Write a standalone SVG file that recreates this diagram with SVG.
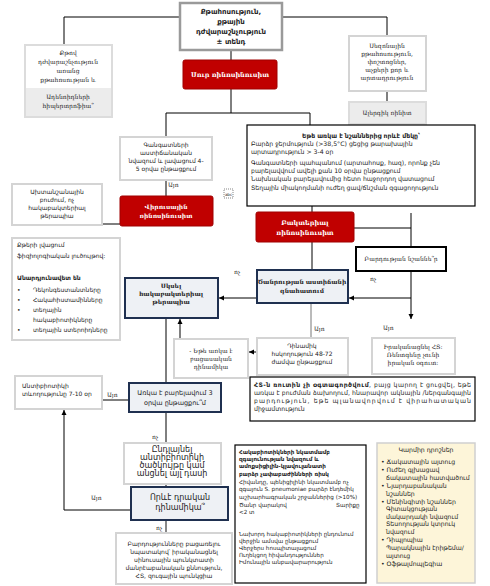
<svg xmlns="http://www.w3.org/2000/svg" width="490" height="586" viewBox="0 0 490 586">
<defs>
<marker id="ar" markerWidth="6" markerHeight="6" refX="5" refY="3" orient="auto" markerUnits="userSpaceOnUse">
<path d="M0,0.5 L5,3 L0,5.5 Z" fill="#000"/>
</marker>
<style>
.s{font-family:"DejaVu Sans","Noto Sans",sans-serif;fill:#222}
.r{font-family:"DejaVu Serif",serif;fill:#222}
.c{text-anchor:middle}
.b{font-weight:bold}
.w{fill:#fff}
.red{fill:#c00000;stroke:#a00000;stroke-width:1}
.gb{fill:#fff;stroke:#d4d4d4;stroke-width:2}
.nv{fill:#eef1f5;stroke:#1f3050;stroke-width:2}
.bk{fill:#fff;stroke:#000;stroke-width:1.2}
.cn path{fill:none;stroke:#000;stroke-width:1}
.f55{font-size:5.6px}
.f62{font-size:6.2px}
.f65{font-size:6.5px}
.f6{font-size:6px}
.f7{font-size:7px}
.f8{font-size:8px}
</style>
</defs>
<rect width="490" height="586" fill="#fff"/>

<g class="cn">
<path d="M180,17 H64 V45"/>
<path d="M282,17 H387 V36"/>
<path d="M387,91 V102"/>
<path d="M231,50 V60"/>
<path d="M231,89 V113"/>
<path d="M166,113 H310 V125"/>
<path d="M166,113 V137"/>
<path d="M166,180 V196"/>
<path d="M120,224 H102"/>
<path d="M312,206 V212"/>
<path d="M312,242 V270"/>
<path d="M354,228 H411"/>
<path d="M411,213 V247"/>
<path d="M411,271 V319" marker-end="url(#ar)"/>
<path d="M411,298 H349" marker-end="url(#ar)"/>
<path d="M257,298 H219" marker-end="url(#ar)"/>
<path d="M311,303 V338" style="stroke:#777"/>
<path d="M257,352 H249" marker-end="url(#ar)"/>
<path d="M180,339 V319" marker-end="url(#ar)"/>
<path d="M166,318 V383"/>
<path d="M129,400 H102"/>
<path d="M166,412 V443"/>
<path d="M166,484 V487"/>
<path d="M131,510 H64 V410" marker-end="url(#ar)"/>
<path d="M166,520 V533" style="stroke:#888;stroke-width:2"/>
</g>

<g id="lbls">
<text class="r f6" x="168" y="187">Այո</text>
<text class="r f6" x="234" y="274">ոչ</text>
<text class="r f6" x="370" y="281">ոչ</text>
<text class="r f6" x="383" y="330">Այո</text>
<text class="r f6" x="314" y="331">Այո</text>
<text class="r f6" x="107" y="397">Այո</text>
<text class="r f6" x="152" y="439">ոչ</text>
<text class="r f6" x="91" y="500">Այո</text>
<text class="r f6" x="156" y="530">ոչ</text>
</g>

<g id="n-top">
<rect x="180" y="3" width="102" height="47" fill="#fff" stroke="#9a9a9a" stroke-width="2.5"/>
<text class="s c b f7" x="231" y="14">Քթահոսություն,</text>
<text class="s c b f7" x="231" y="24">քթային</text>
<text class="s c b f7" x="231" y="34">դժվարաշնչություն</text>
<text class="s c b f7" x="231" y="44">± տենդ</text>
</g>

<g id="n-acute">
<rect class="red" x="183" y="60" width="94" height="29" rx="2"/>
<text class="r c b w f65" x="230" y="77">Սուր ռինոսինուսիտ</text>
</g>

<g id="n-nasal">
<rect x="25" y="45" width="87" height="72" fill="#fff" stroke="#dcdcdc" stroke-width="2"/>
<rect x="26" y="88" width="85" height="28" fill="#ececec"/>
<text class="r c f6" x="68" y="55">Քթով</text>
<text class="r c f6" x="68" y="64">դժվարաշնչություն</text>
<text class="r c f6" x="68" y="73">առանց</text>
<text class="r c f6" x="68" y="82">քթահոսության և</text>
<text class="r c f6" x="68" y="99">Ադենոիդների</text>
<text class="r c f6" x="68" y="108">հիպերտրոֆիա՞</text>
</g>

<g id="n-seasonal">
<rect class="gb" x="349" y="36" width="77" height="55"/>
<text class="r c f6" x="387" y="48">Սեզոնային</text>
<text class="r c f6" x="387" y="56">քթահոսություն,</text>
<text class="r c f6" x="387" y="64">փռշտոցներ,</text>
<text class="r c f6" x="387" y="72">աչքերի քոր և</text>
<text class="r c f6" x="387" y="80">արտադրություն</text>
</g>

<g id="n-allergic">
<rect x="349" y="102" width="77" height="22" fill="#ececec" stroke="#dcdcdc" stroke-width="2"/>
<text class="r c f6" x="387" y="115">Ալերգիկ ռինիտ</text>
</g>

<g id="n-signs">
<rect class="bk" x="247" y="125" width="228" height="81"/>
<text class="s c b f62" x="361" y="138">Եթե առկա է նշաններից որևէ մեկը՝</text>
<text class="s f62" x="251" y="146">Բարձր ջերմություն (&gt;38,5°C) ցեցից թարախային</text>
<text class="s f62" x="251" y="154">արտադրություն   &gt; 3-4 օր</text>
<text class="s f62" x="251" y="165">Գանգատների պահպանում  (արտահոսք, հազ), որոնք չեն</text>
<text class="s f62" x="251" y="173">բարելավվում ավելի քան 10 օրվա ընթացքում</text>
<text class="s f62" x="251" y="181">Նախնական բարելավումից հետո հաջորդող վատացում</text>
<text class="s f62" x="251" y="190">Տեղային միակողմանի ուժեղ ցավ/ճնշման զգացողություն</text>
</g>

<g id="n-improve45">
<rect class="gb" x="120" y="137" width="92" height="43"/>
<text class="s c f6" x="166" y="147">Գանգատների</text>
<text class="s c f6" x="166" y="155">աստիճանական</text>
<text class="s c f6" x="166" y="163">նվազում և լավացում 4-</text>
<text class="s c f6" x="166" y="171">5 օրվա ընթացքում</text>
</g>

<g id="n-icon">
<rect x="224" y="189" width="9" height="9" fill="none" stroke="#333" stroke-width="0.6" stroke-dasharray="1,1"/>
<text class="s c" x="228.5" y="195.5" style="font-size:4px">abc</text>
</g>

<g id="n-viral">
<rect class="red" x="120" y="196" width="93" height="30" rx="2"/>
<text class="r c b w f6" x="166" y="209">Վիրուսային</text>
<text class="r c b w f6" x="166" y="218">ռինոսինուսիտ</text>
</g>

<g id="n-symptomatic">
<rect class="gb" x="12" y="184" width="90" height="41"/>
<text class="s c f6" x="57" y="194">Ախտանշանային</text>
<text class="s c f6" x="57" y="202">բուժում, ոչ</text>
<text class="s c f6" x="57" y="210">հակաբակտերիալ</text>
<text class="s c f6" x="57" y="218">թերապիա</text>
</g>

<g id="n-saline">
<rect class="gb" x="12" y="238" width="108" height="102"/>
<text class="s f6" x="17" y="247">Քթերի լվացում</text>
<text class="s f6" x="17" y="258">ֆիզիոլոգիական լուծույթով:</text>
<text class="s b f6" x="17" y="280">Անարդյունավետ են</text>
<text class="s f6" x="17" y="292">•</text><text class="s f6" x="33" y="292">Դեկոնգեստանտները</text>
<text class="s f6" x="17" y="302">•</text><text class="s f6" x="33" y="302">Հակահիստամինները</text>
<text class="s f6" x="17" y="312">•</text><text class="s f6" x="33" y="312">տեղային</text>
<text class="s f6" x="33" y="322">հակաբիոտիկները</text>
<text class="s f6" x="17" y="332">•</text><text class="s f6" x="33" y="332">տեղային ստերոիդները</text>
</g>

<g id="n-bacterial">
<rect class="red" x="256" y="212" width="98" height="30" rx="2"/>
<text class="r c b w f65" x="305" y="225">Բակտերիալ</text>
<text class="r c b w f65" x="305" y="235">ռինոսինուսիտ</text>
</g>

<g id="n-compl">
<rect x="356" y="247" width="90" height="24" fill="#fff" stroke="#000" stroke-width="2"/>
<text class="r c f6" x="401" y="261">Բարդության նշաննե՞ր</text>
</g>

<g id="n-severity">
<rect class="nv" x="257" y="270" width="91" height="33"/>
<text class="r c b f6" x="302" y="284">Ծանրության աստիճանի</text>
<text class="r c b f6" x="302" y="293">գնահատում</text>
</g>

<g id="n-start">
<rect class="nv" x="125" y="278" width="93" height="40"/>
<text class="r c b f6" x="171" y="288">Սկսել</text>
<text class="r c b f6" x="171" y="296">հակաբակտերիալ</text>
<text class="r c b f6" x="171" y="304">թերապիա</text>
</g>

<g id="n-watch">
<rect class="gb" x="257" y="338" width="91" height="37"/>
<text class="s c f6" x="302" y="348">Դինամիկ</text>
<text class="s c f6" x="302" y="356">հսկողություն 48-72</text>
<text class="s c f6" x="302" y="364">ժամվա ընթացքում</text>
</g>

<g id="n-ct">
<rect class="gb" x="372" y="338" width="83" height="36"/>
<text class="r c f6" x="413" y="349">Իրականացնել ՀՏ:</text>
<text class="r c f6" x="413" y="357">Ռենտգենը չունի</text>
<text class="r c f6" x="413" y="365">իրական օգուտ:</text>
</g>

<g id="n-negdyn">
<rect class="gb" x="174" y="339" width="74" height="39"/>
<text class="r c f6" x="211" y="353">- Եթե առկա է</text>
<text class="r c f6" x="211" y="361">բացասական</text>
<text class="r c f6" x="211" y="369">դինամիկա</text>
</g>

<g id="n-ctnote">
<rect class="bk" x="250" y="377" width="225" height="44"/>
<text class="s f62" x="254" y="387" textLength="217" lengthAdjust="spacing"><tspan class="b">ՀՏ-ն ռուտին չի օգտագործվում</tspan>, բայց կարող է ցուցվել, եթե</text>
<text class="s f62" x="254" y="395" textLength="217" lengthAdjust="spacing">առկա է բուժման ձախողում, հնարավոր ակնային /ներգանգային</text>
<text class="s f62" x="254" y="403" textLength="217" lengthAdjust="spacing">բարդություն, եթե պլանավորվում է վիրահատական</text>
<text class="s f62" x="254" y="411">միջամտություն</text>
</g>

<g id="n-duration">
<rect class="gb" x="15" y="376" width="87" height="33"/>
<text class="s f6" x="22" y="388">Անտիբիոտիկի</text>
<text class="s f6" x="22" y="396">տևողությունը 7-10 օր</text>
</g>

<g id="n-3days">
<rect class="nv" x="129" y="383" width="92" height="29"/>
<text class="s c f65" x="175" y="395">Առկա է բարելավում 3</text>
<text class="s c f65" x="175" y="405">օրվա ընթացքու՞մ</text>
</g>

<g id="n-broaden">
<rect class="gb" x="124" y="443" width="97" height="41"/>
<text class="s c f8" x="172" y="452">Ընդլայնել</text>
<text class="s c f8" x="172" y="460">անտիբիոտիկի</text>
<text class="s c f8" x="172" y="468">ծածկույթը կամ</text>
<text class="s c f8" x="172" y="476">անցնել այլ դասի</text>
</g>

<g id="n-anydyn">
<rect class="nv" x="131" y="487" width="97" height="33"/>
<text class="s c f8" x="180" y="500">Որևէ դրական</text>
<text class="s c f8" x="180" y="510">դինամիկա՞</text>
</g>

<g id="n-exclude">
<rect class="gb" x="116" y="533" width="116" height="51"/>
<text class="s c f6" x="174" y="546">Բարդությունները բացառելու</text>
<text class="s c f6" x="174" y="554">նպատակով՝ իրականացնել</text>
<text class="s c f6" x="174" y="562">սինուսային պունկտատի</text>
<text class="s c f6" x="174" y="570">մանրէաբանական քննություն,</text>
<text class="s c f6" x="174" y="578">ՀՏ, զուգային պունկցիա</text>
</g>

<g id="n-risk">
<rect class="bk" x="235" y="445" width="131" height="138"/>
<text class="s b f55" x="239" y="454">Հակաբիոտիկների նկատմամբ</text>
<text class="s b f55" x="239" y="461">զգայունության նվազում և</text>
<text class="s b f55" x="239" y="468">ամոքսիցիլին-կլավուլանատի</text>
<text class="s b f55" x="239" y="476">բարձր չափաբաժինների ռիսկ</text>
<text class="s f55" x="239" y="484">Հիվանդը, պենիցիլինի նկատմամբ ոչ</text>
<text class="s f55" x="239" y="491">զգայուն S. pneumoniae բարձր էնդեմիկ</text>
<text class="s f55" x="239" y="499">աշխարհագրական շրջաններից (&gt;10%)</text>
<text class="s f55" x="239" y="507">Ծանր վարակով</text>
<text class="s f55" x="336" y="507">Տարիքը</text>
<text class="s f55" x="239" y="514">&lt;2 տ</text>
<text class="s f55" x="239" y="536">Նախորդ հակաբիոտիկների ընդունում</text>
<text class="s f55" x="239" y="543">վերջին ամսվա ընթացքում</text>
<text class="s f55" x="239" y="550">Վերջերս հոսպիտալացում</text>
<text class="s f55" x="239" y="557">Ուղեկցող հիվանդություններ</text>
<text class="s f55" x="239" y="564">Իմունային անբավարարություն</text>
</g>

<g id="n-redflags">
<rect x="377" y="443" width="98" height="140" fill="#fdf5d9" stroke="#cfcfcf" stroke-width="1.5"/>
<text class="s c f62" x="426" y="452">Կարմիր դրոշներ</text>
<text class="s f62" x="381" y="464">• Ճակատային այտուց</text>
<text class="s f62" x="381" y="472">• Ուժեղ գլխացավ</text>
<text class="s f62" x="386" y="480">ճակատային հատվածում</text>
<text class="s f62" x="381" y="488">• Նյարդաբանական</text>
<text class="s f62" x="386" y="496">նշաններ</text>
<text class="s f62" x="381" y="504">• Մենինգիտի նշաններ</text>
<text class="s f62" x="386" y="511">Գիտակցության</text>
<text class="s f62" x="386" y="519">մակարդակի նվազում</text>
<text class="s f62" x="386" y="526">Տեսողության կտրուկ</text>
<text class="s f62" x="386" y="534">նվազում</text>
<text class="s f62" x="381" y="542">• Դիպլոպիա</text>
<text class="s f62" x="386" y="550">Պարակնային էրիթեմա/</text>
<text class="s f62" x="386" y="558">այտուց</text>
<text class="s f62" x="381" y="566">• Օֆթալմոպլեգիա</text>
</g>
</svg>
